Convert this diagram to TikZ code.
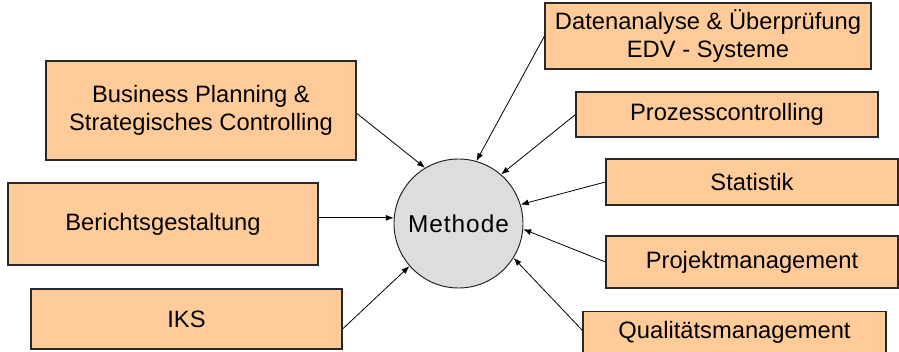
\documentclass[tikz,border=0pt]{standalone}
\usepackage{fontspec}
\setmainfont{Liberation Sans}
\usetikzlibrary{arrows.meta}
\tikzset{
	feld/.style={
		draw={rgb, 255:red, 40; green, 40; blue, 40 }, line width=0.8pt,
		fill={rgb, 255:red, 255; green, 204; blue, 153 },
		align=center, inner sep=0pt,
		font=\fontsize{17.8}{21.4}\selectfont},
	kern/.style={
		circle, draw={rgb, 255:red, 30; green, 30; blue, 30 }, line width=0.7pt,
		fill={rgb, 255:red, 221; green, 221; blue, 221 },
		minimum size=96.75pt, inner sep=0pt},
	pfeil/.style={
		line width=0.6pt, -{Latex[length=6pt,width=4.5pt]}}
}

\begin{document}
\begin{tikzpicture}[x=0.75pt,y=0.75pt,yscale=-1,xscale=1]
\useasboundingbox (0,0) rectangle (899,352);

% Methode in der Mitte
\node [kern] (m) at (458.5,223.5) {\addfontfeatures{LetterSpace=4}\fontsize{18.3}{20}\selectfont Methode};

% linke Seite
\node [feld, minimum width=232.5pt, minimum height=74.25pt] (biz) at (201,110.5) {Business Planning \&\\Strategisches Controlling};
\node [feld, minimum width=232.5pt, minimum height=61.5pt] (bericht) at (163,224) {Berichtsgestaltung};
\node [feld, minimum width=233.25pt, minimum height=45pt] (iks) at (186.5,319) {IKS};

% rechte Seite
\node [feld, minimum width=244.5pt, minimum height=49.5pt] (daten) at (708,36) {Datenanalyse \& Überprüfung\\EDV - Systeme};
\node [feld, minimum width=226.5pt, minimum height=33.75pt] (prozess) at (727,114.5) {Prozesscontrolling};
\node [feld, minimum width=219pt, minimum height=34.5pt] (statistik) at (752,182) {Statistik};
\node [feld, minimum width=219pt, minimum height=39pt] (projekt) at (752,262) {Projektmanagement};
\node [feld, minimum width=227.25pt, minimum height=32pt] (quali) at (734.5,332.5) {Qualitätsmanagement};

% Pfeile auf die Methode
\draw [pfeil] ([yshift=2pt]biz.east) -- (m.121);
\draw [pfeil] (bericht.east |- m.175) -- (m.175);
\draw [pfeil] ([yshift=7.5pt]iks.east) -- (m.221);
\draw [pfeil] (daten.west) -- (m.74);
\draw [pfeil] (prozess.west) -- (m.49);
\draw [pfeil] (statistik.west) -- (m.17);
\draw [pfeil] (projekt.west) -- (m.-5);
\draw [pfeil] ([yshift=-1.5pt]quali.west) -- (m.-32);

\end{tikzpicture}
\end{document}
